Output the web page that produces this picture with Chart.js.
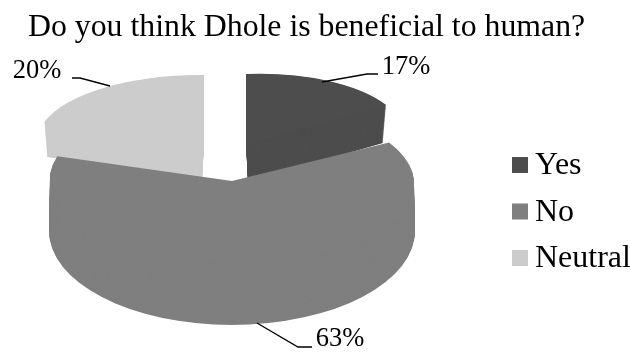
<!DOCTYPE html>
<html>
<head>
<meta charset="utf-8">
<style>
  html, body { margin: 0; padding: 0; background: #fff; }
  canvas { display: block; }
</style>
<script src="https://cdn.jsdelivr.net/npm/chart.js@4"></script>
</head>
<body>
<canvas id="dholeChart" width="630" height="352"></canvas>
<script>
const categories = ['Yes', 'No', 'Neutral'];
const shares = [17, 63, 20];
const sliceColors = ['#4d4d4d', '#7f7f7f', '#cccccc'];

// Tilted view of each slice: unit circle -> screen [a, b, c, d, e, f], top face and base face
const sliceViews = [
    { top: [160, -6, 0, 70, 246, 144], base: [154, -6, 0, 70, 248, 182] },
    { top: [182, 0, 5, 80, 232, 181], base: [183, 0, 0, 94, 232, 231] },
    { top: [168, 1.5, 0, 70, 204, 145], base: [163, 1.5, 0, 70, 202, 180] }
];
const wallSteps = 60;
// The big front slice is painted last, it covers the others
const paintOrder = [0, 2, 1];

// Label text position and its leader line
const labelSpots = [
    { x: 406, y: 67, line: [[322, 82], [367, 74], [378, 74]] },
    { x: 340, y: 339, line: [[257, 323], [298, 347], [312, 347]] },
    { x: 37, y: 71, line: [[110, 86], [80, 78], [72, 78]] }
];
const legendSpot = { x: 512, y: 157, box: 16, gap: 7, step: 46.5 };

const tiltedPie = {
    id: 'tiltedPie',
    beforeDatasetDraw(chart) {
        const ctx = chart.ctx;
        const arcs = chart.getDatasetMeta(0).data;
        paintOrder.forEach(i => {
            const arc = arcs[i];
            const view = sliceViews[i];
            const r = arc.outerRadius;
            // from the base up to the top face, this builds the wall
            for (let s = wallSteps; s >= 0; s--) {
                const t = s / wallSteps;
                const m = view.top.map((v, k) => v + (view.base[k] - v) * t);
                ctx.save();
                ctx.transform(m[0], m[1], m[2], m[3], m[4], m[5]);
                ctx.scale(1 / r, 1 / r);
                ctx.translate(-arc.x, -arc.y);
                arc.draw(ctx);
                ctx.restore();
            }
        });
        return false;
    },
    afterDraw(chart) {
        const ctx = chart.ctx;
        ctx.save();
        ctx.strokeStyle = '#000';
        ctx.lineWidth = 1.3;
        ctx.fillStyle = '#000';
        ctx.font = '26.5px "Liberation Serif"';
        ctx.textAlign = 'center';
        ctx.textBaseline = 'middle';
        labelSpots.forEach((spot, i) => {
            ctx.beginPath();
            spot.line.forEach((p, k) => k ? ctx.lineTo(p[0], p[1]) : ctx.moveTo(p[0], p[1]));
            ctx.stroke();
            ctx.fillText(shares[i] + '%', spot.x, spot.y);
        });

        // Legend
        ctx.font = '32px "Liberation Serif"';
        ctx.textAlign = 'left';
        categories.forEach((name, i) => {
            const y = legendSpot.y + legendSpot.step * i;
            ctx.fillStyle = sliceColors[i];
            ctx.fillRect(legendSpot.x, y, legendSpot.box, legendSpot.box);
            ctx.fillStyle = '#000';
            ctx.fillText(name, legendSpot.x + legendSpot.box + legendSpot.gap, y + legendSpot.box / 2 + 1);
        });
        ctx.restore();
    }
};

new Chart(document.getElementById('dholeChart').getContext('2d'), {
    type: 'pie',
    data: {
        labels: categories,
        datasets: [{
            data: shares,
            backgroundColor: sliceColors,
            borderWidth: 0
        }]
    },
    options: {
        responsive: false,
        animation: false,
        layout: { padding: { left: 28, top: 9 } },
        plugins: {
            tooltip: { enabled: false },
            legend: { display: false },
            title: {
                display: true,
                text: 'Do you think Dhole is beneficial to human?',
                align: 'start',
                color: '#000',
                font: { family: '"Liberation Serif"', size: 31.8, weight: 'normal' },
                padding: 0
            }
        }
    },
    plugins: [tiltedPie]
});
</script>
</body>
</html>
